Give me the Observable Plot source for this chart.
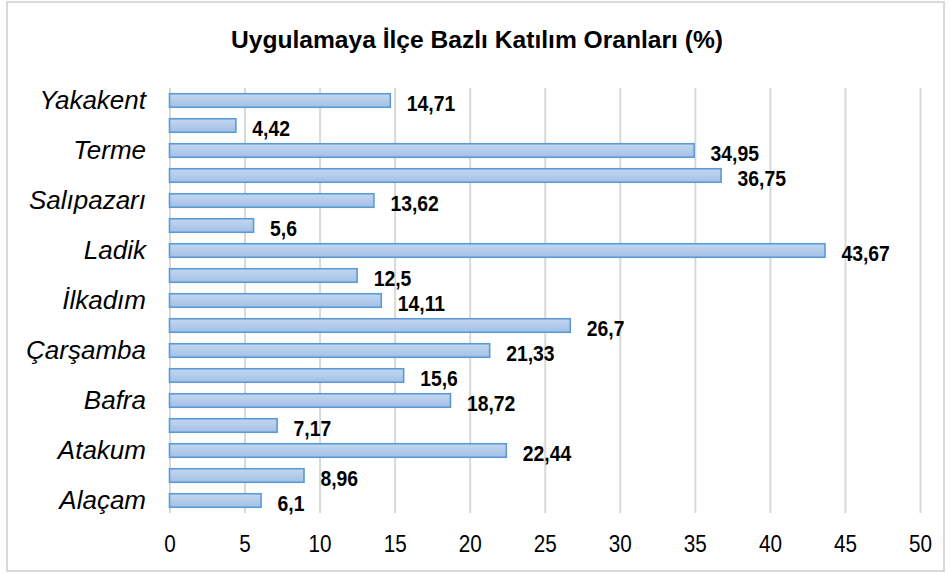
<!DOCTYPE html>
<html>
<head>
<meta charset="utf-8">
<script src="https://cdn.jsdelivr.net/npm/d3@7"></script>
<script src="https://cdn.jsdelivr.net/npm/@observablehq/plot@0.6"></script>
<style>
  html, body { margin: 0; padding: 0; background: #fff; }
  #wrap { position: relative; width: 950px; height: 575px; overflow: hidden; }
  #frame { position: absolute; left: 6px; top: 1px; width: 939px; height: 571px; border: 2px solid #d9d9d9; box-sizing: border-box; pointer-events: none; }
  #title { position: absolute; left: 2px; top: 22px; width: 950px; text-align: center;
    font-family: "Liberation Sans", Arial, sans-serif;
    font-weight: bold; font-size: 24.6px; color: #000; line-height: 36px; }
  #title span { display: inline-block; white-space: nowrap; }
  #chart { position: absolute; left: 0; top: 70px; }
</style>
</head>
<body>
<div id="wrap">
  <div id="title"><span>Uygulamaya İlçe Bazlı Katılım Oranları (%)</span></div>
  <div id="chart"></div>
  <div id="frame"></div>
</div>
<script>
const districts = ["Alaçam","Asarcık","Atakum","Ayvacık","Bafra","Canik","Çarşamba","Havza","İlkadım","Kavak","Ladik","Ondokuzmayıs","Salıpazarı","Tekkeköy","Terme","Vezirköprü","Yakakent"];
const rates = [6.1, 8.96, 22.44, 7.17, 18.72, 15.6, 21.33, 26.7, 14.11, 12.5, 43.67, 5.6, 13.62, 36.75, 34.95, 4.42, 14.71];
const shownLabels = ["Alaçam","Atakum","Bafra","Çarşamba","İlkadım","Ladik","Salıpazarı","Terme","Yakakent"];
const xTicks = [0, 5, 10, 15, 20, 25, 30, 35, 40, 45, 50];

const data = districts.map((d, i) => ({district: d, rate: rates[i]}));
const sans = "'Liberation Sans', Arial, sans-serif";

const chart = Plot.plot({
  width: 950,
  height: 505,
  marginTop: 18,
  marginBottom: 62,
  marginLeft: 169.5,
  marginRight: 30,
  style: {background: "transparent", overflow: "visible"},
  x: {domain: [0, 50]},
  y: {domain: districts.slice().reverse(), paddingInner: 0.46, paddingOuter: 0.23, round: false},
  marks: [
    Plot.ruleX(xTicks, {stroke: "#d9d9d9", strokeWidth: 2}),
    Plot.barX(data, {x: "rate", y: "district", fill: "url(#barGrad)", stroke: "#5b9bd5", strokeWidth: 1.6}),
    Plot.text(data, {x: "rate", y: "district", text: d => String(d.rate).replace(".", ","),
      dx: 16, dy: 3, textAnchor: "start", fontFamily: sans, fontWeight: "bold", fontSize: 21.5, fill: "#000"}),
    Plot.axisX({ticks: xTicks, tickSize: 0, tickPadding: 22, fontSize: 23, fontFamily: sans, label: null, color: "#000"}),
    Plot.axisY({tickSize: 0, tickPadding: 24, fontSize: 26, fontFamily: sans, fontStyle: "italic", label: null,
      tickFormat: d => shownLabels.includes(d) ? d : "", color: "#000"})
  ]
});

const svg = d3.select(chart);
const defs = svg.insert("defs", ":first-child");
const g = defs.append("linearGradient").attr("id", "barGrad").attr("x1", 0).attr("y1", 0).attr("x2", 0).attr("y2", 1);
g.append("stop").attr("offset", "0%").attr("stop-color", "#c4d7f0");
g.append("stop").attr("offset", "100%").attr("stop-color", "#a3c0e6");

// condense (narrow-font look) the value labels and x tick labels
function condense(sel, s) {
  sel.each(function() {
    const t = this.getAttribute("transform");
    if (t) {
      this.setAttribute("transform", t + ` scale(${s},1)`);
    } else {
      const x = +this.getAttribute("x") || 0, y = +this.getAttribute("y") || 0;
      this.setAttribute("transform", `translate(${x},${y}) scale(${s},1) translate(${-x},${-y})`);
    }
  });
}
condense(svg.selectAll('g[aria-label="text"] text'), 0.9);
condense(svg.selectAll('g[aria-label="x-axis tick label"] text'), 0.9);

document.getElementById("chart").appendChild(chart);
</script>
</body>
</html>
